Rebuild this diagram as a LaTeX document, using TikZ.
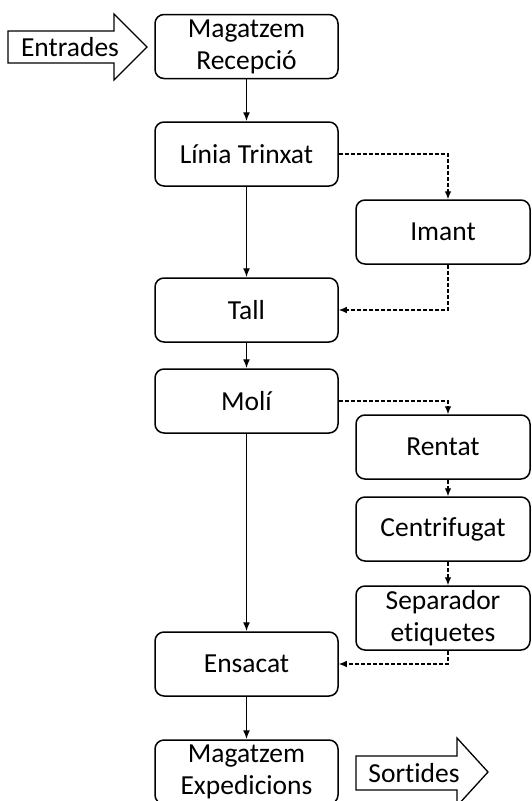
\documentclass[tikz,border=0pt]{standalone}
\usepackage{fontspec}
\setmainfont{Carlito}[Ligatures=NoCommon]
\usepackage{tikz}
\usetikzlibrary{arrows.meta}

\begin{document}
\begin{tikzpicture}[x=1pt,y=-1pt]
\tikzset{>={Latex[width=7pt,length=9pt]}}
\tikzstyle{proces} =[draw, rounded corners=9pt, line width=1.5pt, minimum width=183pt, minimum height=64pt, align=center, inner sep=0pt, font=\fontsize{27.5}{32}\selectfont]
\tikzstyle{lateral} =[proces, minimum width=174pt]
\tikzstyle{flux} =[->, line width=1.4pt]
\tikzstyle{desvia} =[-{Latex[width=6.5pt,length=8pt]}, line width=1.1pt, dash pattern=on 4pt off 2pt]
\tikzstyle{fletxa} =[draw, line width=1.3pt, line join=miter]
\useasboundingbox (0,0) rectangle (531,801);

\node[proces](recep) at (246.5,46.5){Magatzem\\Recepció};
\node[proces](trinx) at (246.5,154){Línia Trinxat};
\node[proces](tall) at (246.5,310){Tall};
\node[proces](moli) at (246.5,401){Molí};
\node[proces](ensac) at (246.5,664){Ensacat};
\node[proces](exped) at (246.5,772){Magatzem\\Expedicions};

\node[lateral](imant) at (443,232){Imant};
\node[lateral](rentat) at (443,447){Rentat};
\node[lateral](centri) at (443,529){Centrifugat};
\node[lateral](separ) at (443,618){Separador\\etiquetes};

\draw [flux] (recep) to (trinx);
\draw [flux] (trinx) to (tall);
\draw [flux] (tall) to (moli);
\draw [flux] (moli) to (ensac);
\draw [flux] (ensac) to (exped);

\draw [desvia] (trinx.east) -| ([xshift=5pt]imant.north);
\draw [desvia] ([xshift=5pt]imant.south) |- (tall.east);
\draw [desvia] (moli.east) -| ([xshift=5pt]rentat.north);
\draw [desvia] ([xshift=5pt]rentat.south) to ([xshift=5pt]centri.north);
\draw [desvia] ([xshift=5pt]centri.south) to ([xshift=5pt]separ.north);
\draw [desvia] ([xshift=5pt]separ.south) |- (ensac.east);

% fletxes d'entrada i sortida
\draw[fletxa] (8,31) -- (114,31) -- (114,14) -- (147,47) -- (114,80) -- (114,63) -- (8,63) -- cycle;
\node[font=\fontsize{27.5}{32}\selectfont](entr) at (70,47){Entrades};
\draw[fletxa] (356,756) -- (457,756) -- (457,738) -- (488,772) -- (457,806) -- (457,790) -- (356,790) -- cycle;
\node[font=\fontsize{27.5}{32}\selectfont](sort) at (414,773){Sortides};
\end{tikzpicture}
\end{document}
